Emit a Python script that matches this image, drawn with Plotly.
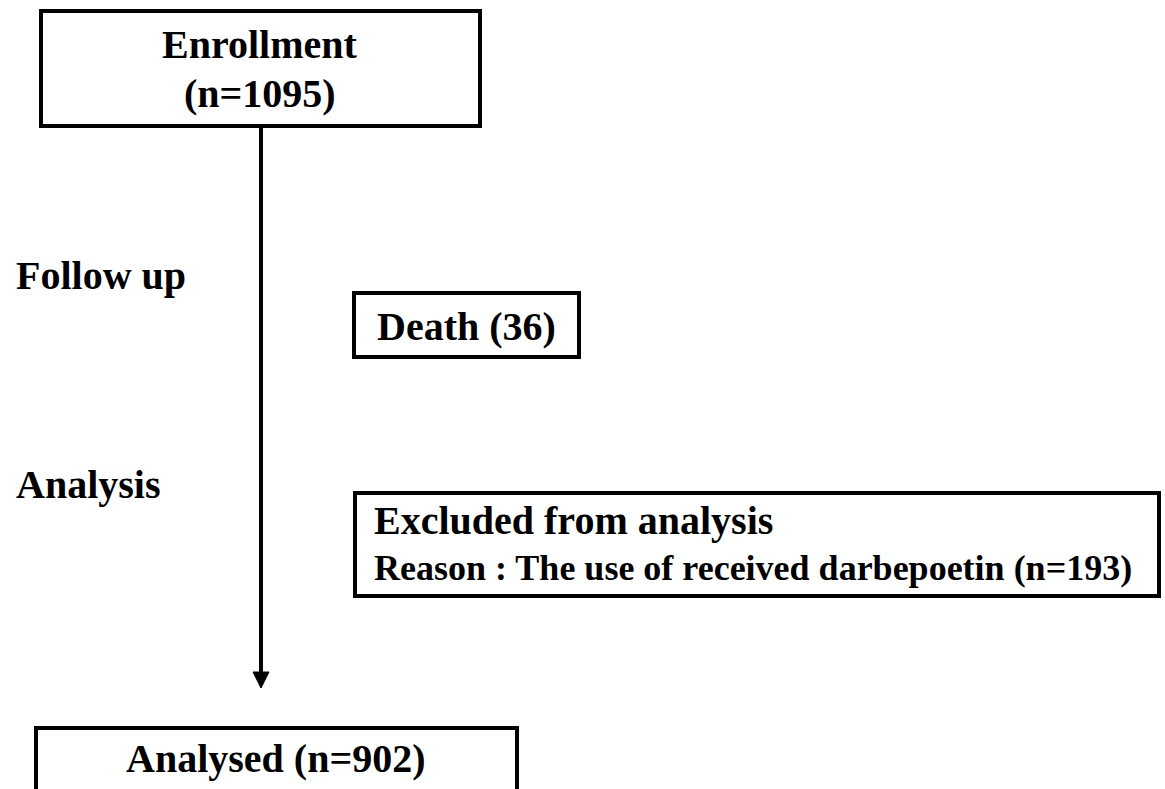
import plotly.graph_objects as go

# ---- content ----
enroll_title = "Enrollment"
enroll_n = 1095
death_n = 36
excluded_title = "Excluded from analysis"
excluded_reason = "Reason : The use of received darbepoetin"
excluded_n = 193
analysed_n = 902
stage_labels = ["Follow up", "Analysis"]

# ---- layout geometry (page pixels, y downward) ----
W, H = 1165, 789
FONT = "Liberation Serif, Times New Roman, serif"
LW = 4

boxes = [  # x0, y0, x1, y1
    (41, 11, 480, 126),      # enrollment
    (354, 293, 579, 357),    # death
    (355, 493, 1159, 596),   # excluded
    (36, 728, 517, 810),     # analysed (clipped at bottom)
]

fig = go.Figure()
fig.add_trace(go.Scatter(x=[0, W], y=[0, H], mode="markers",
                         marker=dict(opacity=0), hoverinfo="skip", showlegend=False))

for (x0, y0, x1, y1) in boxes:
    fig.add_shape(type="rect", x0=x0, y0=y0, x1=x1, y1=y1, xref="x", yref="y",
                  line=dict(color="black", width=LW), fillcolor="rgba(0,0,0,0)")

# arrow shaft + head
ax = 261
fig.add_shape(type="line", x0=ax, y0=126, x1=ax, y1=676, xref="x", yref="y",
              line=dict(color="black", width=LW))
fig.add_shape(type="path", path=f"M {ax-8},672 L {ax+8},672 L {ax},688 Z",
              xref="x", yref="y", fillcolor="black", line=dict(color="black", width=1))

def txt(x, y, s, size=40, anchor="center"):
    fig.add_annotation(x=x, y=y, xref="x", yref="y", text=f"<b>{s}</b>", showarrow=False,
                       xanchor=anchor, yanchor="middle",
                       font=dict(family=FONT, size=size, color="black"))

txt(260, 44, enroll_title)
txt(260, 93, f"(n={enroll_n})")
txt(14, 275, stage_labels[0], anchor="left")
txt(14, 484, stage_labels[1], anchor="left")
txt(466, 326, f"Death ({death_n})")
txt(372, 520, excluded_title, size=40, anchor="left")
txt(372, 568, f"{excluded_reason} (n={excluded_n})", size=36, anchor="left")
txt(276, 758, f"Analysed (n={analysed_n})")

fig.update_layout(
    width=W, height=H, margin=dict(l=0, r=0, t=0, b=0),
    paper_bgcolor="white", plot_bgcolor="white", showlegend=False,
    xaxis=dict(range=[0, W], visible=False, fixedrange=True),
    yaxis=dict(range=[H, 0], visible=False, fixedrange=True),
)
fig.write_html(
    "out.html",
    config={"displayModeBar": False, "staticPlot": True},
    post_script="document.body.style.margin='0';document.body.style.overflow='hidden';",
)
